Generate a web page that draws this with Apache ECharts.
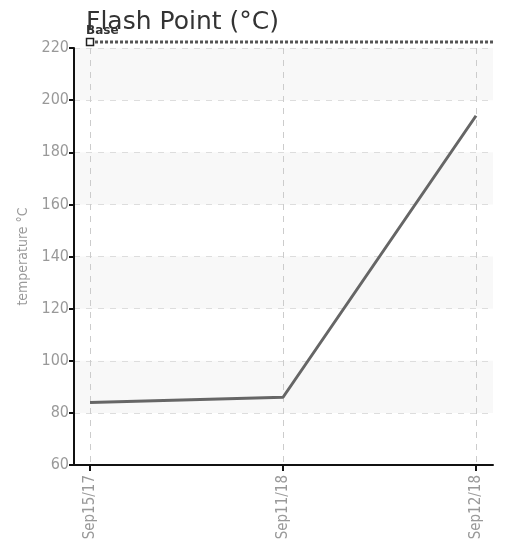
<!DOCTYPE html>
<html><head><meta charset="utf-8">
<script src="https://cdn.jsdelivr.net/npm/echarts@6/dist/echarts.min.js"></script>
<style>html,body{margin:0;padding:0;background:#fff}#c{width:509px;height:545px}</style>
</head><body><div id="c"></div>
<script>
var categories = ['Sep15/17', 'Sep11/18', 'Sep12/18'];
var flashPoint = [84, 86, 194];
var baseValue = 222.3;
var yTicks = [60, 80, 100, 120, 140, 160, 180, 200, 220];

var xMin = -0.083, xMax = 2.088;
var idx = categories.map(function (c, i) { return i; });
var chart = echarts.init(document.getElementById('c'));
var labelFont = '"DejaVu Sans Condensed",sans-serif';
chart.setOption({
  animation: false,
  title: { text: 'Flash Point (°C)', left: 81, top: 5,
    textStyle: { fontFamily: '"DejaVu Sans", sans-serif', fontSize: 25, fontWeight: 'normal', color: '#333' } },
  grid: { left: 74, right: 16, top: 48, bottom: 80 },
  xAxis: {
    type: 'value', min: xMin, max: xMax,
    axisLine: { show: true, onZero: false, lineStyle: { color: '#111', width: 2 } },
    axisTick: { show: true, customValues: idx, length: 6, lineStyle: { color: '#111', width: 2 } },
    axisLabel: { customValues: idx, rotate: 90, color: '#999', fontSize: 15, fontFamily: labelFont, margin: 10,
      formatter: function (v) { return categories[Math.round(v)]; } },
    splitLine: { show: true, customValues: idx, lineStyle: { color: '#ccc', type: [6, 6] } }
  },
  yAxis: {
    type: 'value', min: yTicks[0], max: yTicks[yTicks.length - 1], interval: 20,
    name: 'temperature °C', nameLocation: 'middle', nameGap: 44, nameRotate: 90,
    nameTextStyle: { color: '#999', fontSize: 14, fontFamily: labelFont },
    axisLine: { show: true, onZero: false, lineStyle: { color: '#111', width: 2 } },
    axisTick: { show: true, length: 5, lineStyle: { color: '#111', width: 2 } },
    axisLabel: { color: '#999', fontSize: 16, fontFamily: labelFont, margin: 5 },
    splitLine: { show: true, lineStyle: { color: '#ddd', type: [6, 6] } },
    splitArea: { show: true, areaStyle: { color: ['rgba(255,255,255,0)', '#f8f8f8'] } }
  },
  series: [
    { name: 'Flash Point', type: 'line', data: flashPoint.map(function (v, i) { return [i, v]; }),
      symbol: 'none', lineStyle: { color: '#666', width: 3 } },
    { name: 'Base', type: 'line', clip: false,
      data: [{ value: [0, baseValue] }, { value: [xMax, baseValue], symbol: 'none' }],
      symbol: 'rect', symbolSize: 7, showAllSymbol: true,
      itemStyle: { color: '#fff', borderColor: '#222', borderWidth: 1.5 },
      lineStyle: { color: '#555', width: 3, type: [3, 2] },
      label: { show: true, position: 'top', distance: 1, formatter: function (p) { return p.dataIndex === 0 ? 'Base' : ''; },
        color: '#333', fontSize: 12, fontWeight: 'bold', fontFamily: '"DejaVu Sans", sans-serif', align: 'left', offset: [-4, 0] } }
  ]
});
</script></body></html>
